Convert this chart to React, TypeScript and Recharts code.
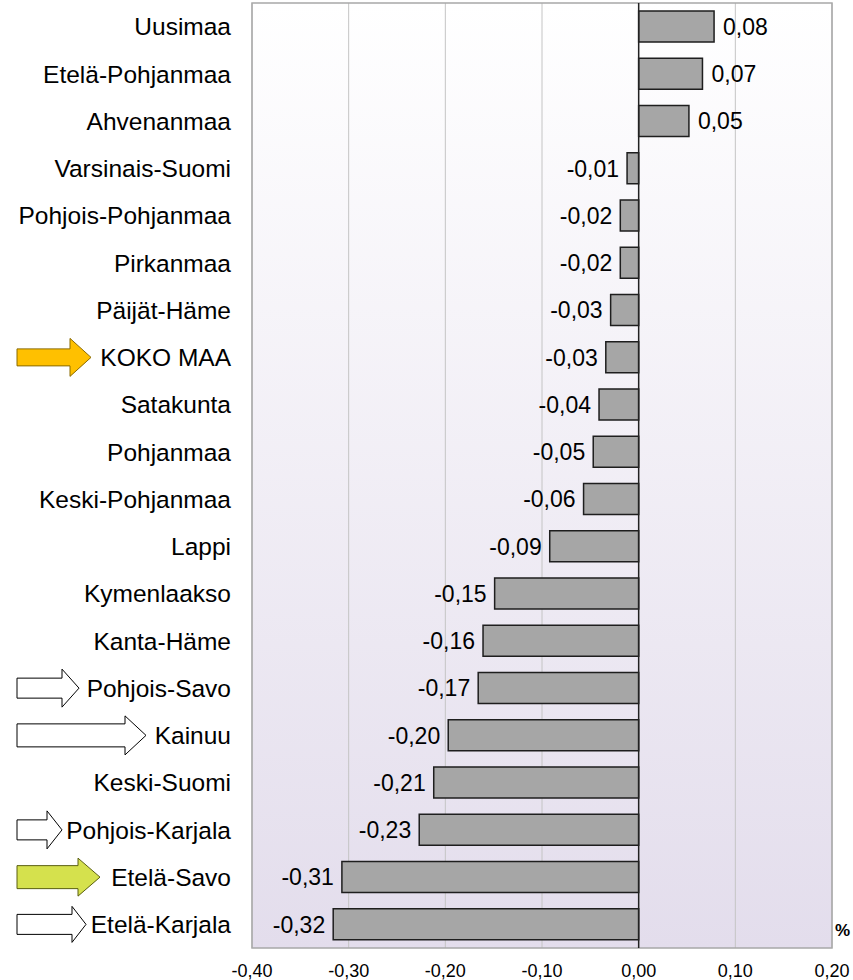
import React from 'react';
import {
  BarChart,
  Bar,
  XAxis,
  YAxis,
  CartesianGrid,
  ReferenceLine,
  ReferenceArea,
  LabelList,
} from 'recharts';

const regions = [
  'Uusimaa',
  'Etelä-Pohjanmaa',
  'Ahvenanmaa',
  'Varsinais-Suomi',
  'Pohjois-Pohjanmaa',
  'Pirkanmaa',
  'Päijät-Häme',
  'KOKO MAA',
  'Satakunta',
  'Pohjanmaa',
  'Keski-Pohjanmaa',
  'Lappi',
  'Kymenlaakso',
  'Kanta-Häme',
  'Pohjois-Savo',
  'Kainuu',
  'Keski-Suomi',
  'Pohjois-Karjala',
  'Etelä-Savo',
  'Etelä-Karjala',
];

const changes = [
  0.078, 0.066, 0.052, -0.012, -0.019, -0.019, -0.029, -0.034, -0.041, -0.047,
  -0.057, -0.092, -0.149, -0.161, -0.166, -0.197, -0.212, -0.227, -0.307, -0.316,
];

const xTicks = [-0.4, -0.3, -0.2, -0.1, 0, 0.1, 0.2];

const data = regions.map((name, i) => ({ name, value: changes[i] }));

// highlight arrows drawn next to some region labels
const arrows: Record<string, { fill: string; stroke: string; tip: number; head: number; shaft: number; half: number }> = {
  'KOKO MAA': { fill: '#ffc000', stroke: '#8a6a00', tip: 91, head: 21, shaft: 8.5, half: 19 },
  'Pohjois-Savo': { fill: '#ffffff', stroke: '#000000', tip: 79, head: 17, shaft: 10, half: 19 },
  Kainuu: { fill: '#ffffff', stroke: '#000000', tip: 146, head: 21, shaft: 11.5, half: 19.5 },
  'Pohjois-Karjala': { fill: '#ffffff', stroke: '#000000', tip: 62, head: 15, shaft: 10, half: 19 },
  'Etelä-Savo': { fill: '#d5e14d', stroke: '#5a5f10', tip: 100, head: 22, shaft: 11.5, half: 19 },
  'Etelä-Karjala': { fill: '#ffffff', stroke: '#000000', tip: 86, head: 14, shaft: 10, half: 18 },
};

const FONT = 'Arial, "Liberation Sans", sans-serif';

const fmt = (v: number) => (Math.round(v * 100) / 100).toFixed(2).replace('.', ',');

const RegionTick = (props: any) => {
  const { x, y, payload } = props;
  const a = arrows[payload.value];
  const x0 = 17;
  return (
    <g>
      {a && (
        <path
          d={`M${x0},${y - a.shaft} L${a.tip - a.head},${y - a.shaft} L${a.tip - a.head},${y - a.half} L${a.tip},${y} L${a.tip - a.head},${y + a.half} L${a.tip - a.head},${y + a.shaft} L${x0},${y + a.shaft} Z`}
          fill={a.fill}
          stroke={a.stroke}
          strokeWidth={1}
        />
      )}
      <text x={x} y={y} dy="0.36em" textAnchor="end" fontSize={24.5} fontFamily={FONT} fill="#000">
        {payload.value}
      </text>
    </g>
  );
};

const ValueLabel = (props: any) => {
  const { x, y, width, height, value } = props;
  const left = Math.min(x, x + width);
  const right = Math.max(x, x + width);
  const neg = value < 0;
  return (
    <text
      x={neg ? left - 8 : right + 9}
      y={y + height / 2}
      dy="0.36em"
      textAnchor={neg ? 'end' : 'start'}
      fontSize={23}
      fontFamily={FONT}
      fill="#000"
    >
      {fmt(value)}
    </text>
  );
};

export default function App() {
  return (
    <div style={{ position: 'absolute', left: 0, top: 0, width: 853, height: 980, background: '#fff' }}>
      <BarChart
        width={853}
        height={980}
        data={data}
        layout="vertical"
        margin={{ top: 3, right: 21, bottom: 2, left: 0 }}
      >
        <defs>
          <linearGradient id="bg" x1="0" y1="0" x2="0" y2="1">
            <stop offset="0%" stopColor="#ffffff" />
            <stop offset="100%" stopColor="#e3ddec" />
          </linearGradient>
        </defs>
        <CartesianGrid horizontal={false} stroke="#c4c4c4" fill="url(#bg)" />
        <XAxis
          type="number"
          domain={[-0.4, 0.2]}
          ticks={xTicks}
          tickFormatter={fmt}
          axisLine={false}
          tickLine={false}
          tickSize={0}
          tickMargin={16}
          height={30}
          tick={{ fontSize: 18, fill: '#000', fontFamily: FONT }}
          interval={0}
        />
        <YAxis
          type="category"
          dataKey="name"
          width={252}
          axisLine={false}
          tickLine={false}
          tickSize={0}
          tickMargin={21}
          interval={0}
          tick={<RegionTick />}
        />
        <ReferenceArea x1={-0.4} x2={0.2} fill="none" stroke="#a8a8a8" strokeWidth={1.5} />
        <Bar
          dataKey="value"
          fill="#a6a6a6"
          stroke="#1e1e1e"
          strokeWidth={1.5}
          barSize={31}
          isAnimationActive={false}
        >
          <LabelList dataKey="value" content={<ValueLabel />} />
        </Bar>
        <ReferenceLine x={0} stroke="#222" strokeWidth={1.5} />
      </BarChart>
      <div
        style={{
          position: 'absolute',
          left: 835,
          top: 921,
          fontFamily: FONT,
          fontWeight: 'bold',
          fontSize: 17,
          color: '#000',
        }}
      >
        %
      </div>
    </div>
  );
}
